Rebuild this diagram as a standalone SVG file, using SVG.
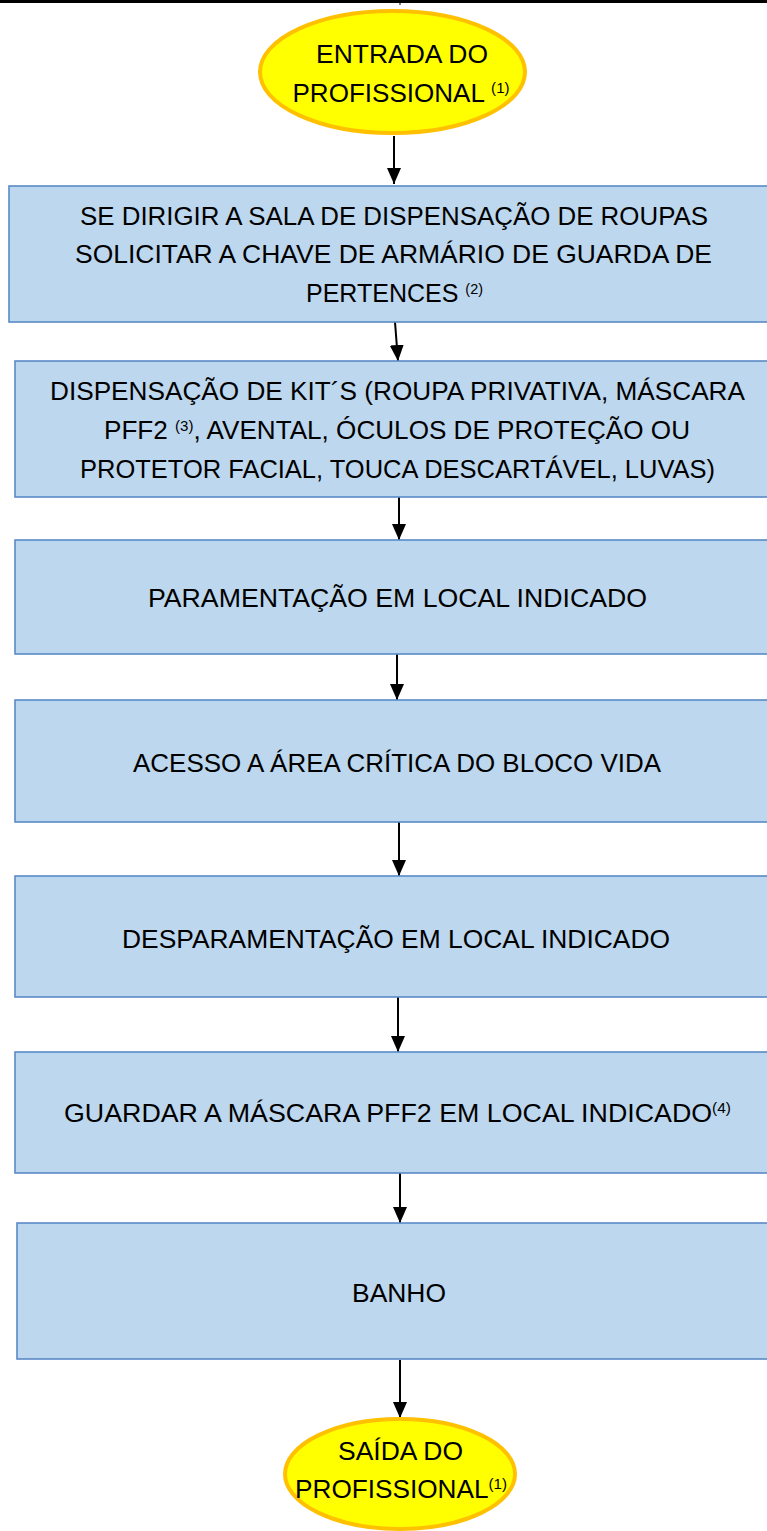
<svg xmlns="http://www.w3.org/2000/svg" width="767" height="1531" viewBox="0 0 767 1531">
<defs>
<style>
.box{fill:#BDD7EE;stroke:#5B8AC6;stroke-width:1.6}
.term{fill:#FFFF00;stroke:#FFC000;stroke-width:4}
.t{font-family:"Liberation Sans",Arial,sans-serif;font-size:26px;fill:#000;text-anchor:middle}
.sup{font-size:15px}
.conn{stroke:#000;stroke-width:2;fill:none;marker-end:url(#ah)}
</style>
<marker id="ah" viewBox="0 0 16 14" refX="16" refY="7" markerWidth="16" markerHeight="14" markerUnits="userSpaceOnUse" orient="auto">
<path d="M0,0 L16,7 L0,14 Z" fill="#000"/>
</marker>
</defs>
<rect width="767" height="1531" fill="#fff"/>
<line x1="0" y1="1.5" x2="767" y2="1.5" stroke="#000" stroke-width="3"/>
<line x1="400" y1="0" x2="400" y2="5" stroke="#000" stroke-width="1"/>

<g id="connectors">
<line class="conn" x1="394" y1="136" x2="394" y2="184"/>
<line class="conn" x1="395" y1="322" x2="398" y2="361"/>
<line class="conn" x1="399" y1="497" x2="399" y2="540"/>
<line class="conn" x1="397" y1="654" x2="397" y2="700"/>
<line class="conn" x1="399" y1="822" x2="399" y2="876"/>
<line class="conn" x1="398" y1="997" x2="398" y2="1052"/>
<line class="conn" x1="400" y1="1173" x2="400" y2="1223"/>
<line class="conn" x1="400" y1="1360" x2="400" y2="1418"/>
</g>

<g id="entrada">
<ellipse class="term" cx="392.5" cy="72" rx="132.5" ry="61"/>
<text class="t" x="402" y="63" textLength="172" lengthAdjust="spacingAndGlyphs">ENTRADA DO</text>
<text class="t" x="401" y="102" textLength="217" lengthAdjust="spacingAndGlyphs">PROFISSIONAL <tspan class="sup" dy="-9">(1)</tspan></text>
</g>

<g id="dirigir">
<rect class="box" x="9" y="186" width="775" height="136"/>
<text class="t" x="394" y="225" textLength="628" lengthAdjust="spacingAndGlyphs">SE DIRIGIR A SALA DE DISPENSAÇÃO DE ROUPAS</text>
<text class="t" x="393.5" y="263" textLength="637" lengthAdjust="spacingAndGlyphs">SOLICITAR A CHAVE DE ARMÁRIO DE GUARDA DE</text>
<text class="t" x="394.5" y="302" textLength="177" lengthAdjust="spacingAndGlyphs">PERTENCES <tspan class="sup" dy="-8">(2)</tspan></text>
</g>

<g id="dispensacao">
<rect class="box" x="15" y="361" width="775" height="136"/>
<text class="t" x="397.5" y="400" textLength="695" lengthAdjust="spacingAndGlyphs">DISPENSAÇÃO DE KIT´S (ROUPA PRIVATIVA, MÁSCARA</text>
<text class="t" x="397" y="439" textLength="586" lengthAdjust="spacingAndGlyphs">PFF2 <tspan class="sup" dy="-8">(3)</tspan><tspan dy="8">, AVENTAL, ÓCULOS DE PROTEÇÃO OU</tspan></text>
<text class="t" x="397.5" y="478" textLength="635" lengthAdjust="spacingAndGlyphs">PROTETOR FACIAL, TOUCA DESCARTÁVEL, LUVAS)</text>
</g>

<g id="paramentacao">
<rect class="box" x="15" y="540" width="775" height="114"/>
<text class="t" x="397.5" y="607" textLength="499" lengthAdjust="spacingAndGlyphs">PARAMENTAÇÃO EM LOCAL INDICADO</text>
</g>

<g id="acesso">
<rect class="box" x="15" y="700" width="775" height="122"/>
<text class="t" x="397" y="772" textLength="528" lengthAdjust="spacingAndGlyphs">ACESSO A ÁREA CRÍTICA DO BLOCO VIDA</text>
</g>

<g id="desparamentacao">
<rect class="box" x="15" y="876" width="775" height="121"/>
<text class="t" x="396" y="948" textLength="548" lengthAdjust="spacingAndGlyphs">DESPARAMENTAÇÃO EM LOCAL INDICADO</text>
</g>

<g id="guardar">
<rect class="box" x="15" y="1052" width="775" height="121"/>
<text class="t" x="397.5" y="1122" textLength="667" lengthAdjust="spacingAndGlyphs">GUARDAR A MÁSCARA PFF2 EM LOCAL INDICADO<tspan class="sup" dy="-9">(4)</tspan></text>
</g>

<g id="banho">
<rect class="box" x="17" y="1223" width="775" height="136"/>
<text class="t" x="399" y="1302" textLength="94" lengthAdjust="spacingAndGlyphs">BANHO</text>
</g>

<g id="saida">
<ellipse class="term" cx="400" cy="1474" rx="115" ry="55"/>
<text class="t" x="400.5" y="1460" textLength="125" lengthAdjust="spacingAndGlyphs">SAÍDA DO</text>
<text class="t" x="401" y="1498" textLength="212" lengthAdjust="spacingAndGlyphs">PROFISSIONAL<tspan class="sup" dy="-9">(1)</tspan></text>
</g>
</svg>
